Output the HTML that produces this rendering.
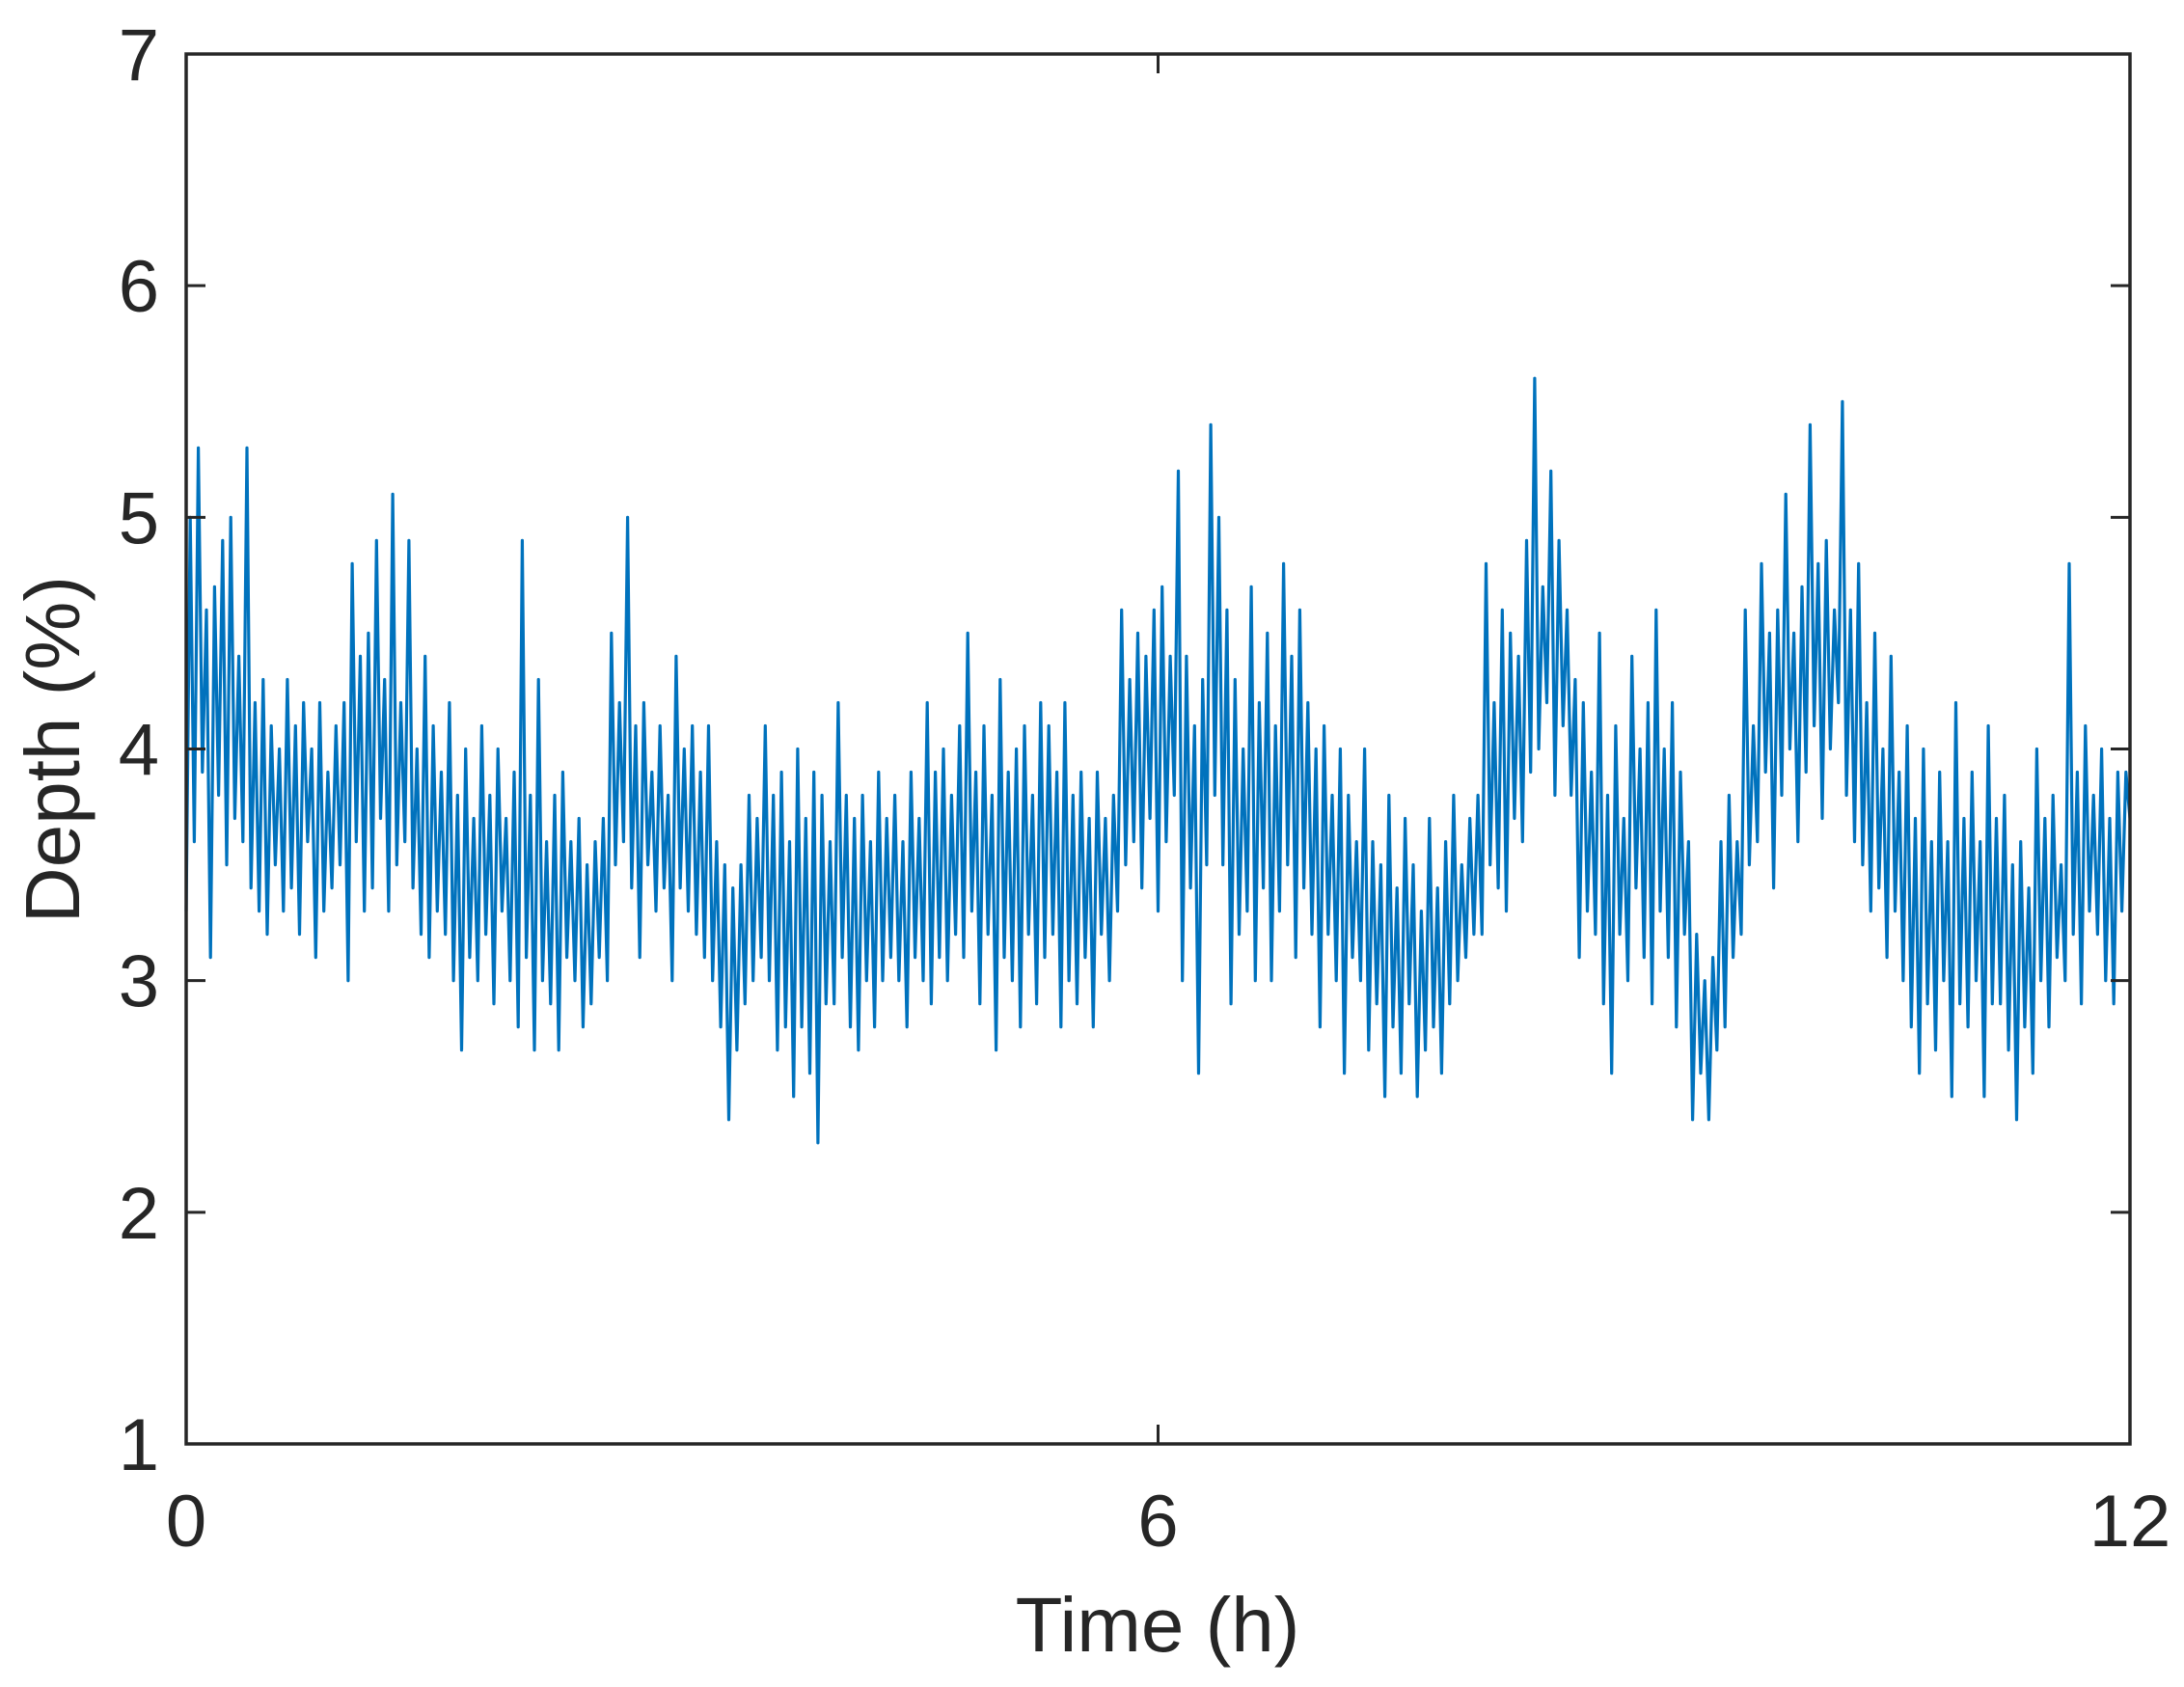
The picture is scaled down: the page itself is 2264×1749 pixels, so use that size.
<!DOCTYPE html>
<html><head><meta charset="utf-8"><style>
html,body{margin:0;padding:0;background:#fff;}
svg{display:block;font-family:"Liberation Sans",Arial,sans-serif;}
</style></head><body>
<svg id="chart" width="2264" height="1749" viewBox="0 0 2264 1749" xmlns="http://www.w3.org/2000/svg">
<rect width="2264" height="1749" fill="#fff"/>
<g id="plot"></g>
<g id="axes"></g>
<text x="1200" y="1712" font-size="80" text-anchor="middle" fill="#262626">Time (h)</text>
<text transform="translate(82,777) rotate(-90)" font-size="80" text-anchor="middle" fill="#262626">Depth (%)</text>
</svg>
<script>
const xTicks = [0, 6, 12];
const yTicks = [1, 2, 3, 4, 5, 6, 7];
const tStep = 0.025;
const depth = [
3.3,5.0,3.6,5.3,3.9,4.6,3.1,4.7,3.8,4.9,3.5,5.0,3.7,4.4,3.6,5.3,3.4,4.2,3.3,4.3,3.2,4.1,3.5,4.0,3.3,4.3,3.4,4.1,3.2,4.2,3.6,4.0,3.1,4.2,3.3,3.9,3.4,4.1,3.5,4.2,
3.0,4.8,3.6,4.4,3.3,4.5,3.4,4.9,3.7,4.3,3.3,5.1,3.5,4.2,3.6,4.9,3.4,4.0,3.2,4.4,3.1,4.1,3.3,3.9,3.2,4.2,3.0,3.8,2.7,4.0,3.1,3.7,3.0,4.1,3.2,3.8,2.9,4.0,3.3,3.7,
3.0,3.9,2.8,4.9,3.1,3.8,2.7,4.3,3.0,3.6,2.9,3.8,2.7,3.9,3.1,3.6,3.0,3.7,2.8,3.5,2.9,3.6,3.1,3.7,3.0,4.5,3.5,4.2,3.6,5.0,3.4,4.1,3.1,4.2,3.5,3.9,3.3,4.1,3.4,3.8,
3.0,4.4,3.4,4.0,3.3,4.1,3.2,3.9,3.1,4.1,3.0,3.6,2.8,3.5,2.4,3.4,2.7,3.5,2.9,3.8,3.0,3.7,3.1,4.1,3.0,3.8,2.7,3.9,2.8,3.6,2.5,4.0,2.8,3.7,2.6,3.9,2.3,3.8,2.9,3.6,
2.9,4.2,3.1,3.8,2.8,3.7,2.7,3.8,3.0,3.6,2.8,3.9,3.0,3.7,3.1,3.8,3.0,3.6,2.8,3.9,3.1,3.7,3.0,4.2,2.9,3.9,3.1,4.0,3.0,3.8,3.2,4.1,3.1,4.5,3.3,3.9,2.9,4.1,3.2,3.8,
2.7,4.3,3.1,3.9,3.0,4.0,2.8,4.1,3.2,3.8,2.9,4.2,3.1,4.1,3.2,3.9,2.8,4.2,3.0,3.8,2.9,3.9,3.1,3.7,2.8,3.9,3.2,3.7,3.0,3.8,3.3,4.6,3.5,4.3,3.6,4.5,3.4,4.4,3.7,4.6,
3.3,4.7,3.6,4.4,3.8,5.2,3.0,4.4,3.4,4.1,2.6,4.3,3.5,5.4,3.8,5.0,3.5,4.6,2.9,4.3,3.2,4.0,3.3,4.7,3.0,4.2,3.4,4.5,3.0,4.1,3.3,4.8,3.5,4.4,3.1,4.6,3.4,4.2,3.2,4.0,
2.8,4.1,3.2,3.8,3.0,4.0,2.6,3.8,3.1,3.6,3.0,4.0,2.7,3.6,2.9,3.5,2.5,3.8,2.8,3.4,2.6,3.7,2.9,3.5,2.5,3.3,2.7,3.7,2.8,3.4,2.6,3.6,2.9,3.8,3.0,3.5,3.1,3.7,3.2,3.8,
3.2,4.8,3.5,4.2,3.4,4.6,3.3,4.5,3.7,4.4,3.6,4.9,3.9,5.6,4.0,4.7,4.2,5.2,3.8,4.9,4.1,4.6,3.8,4.3,3.1,4.2,3.3,3.9,3.2,4.5,2.9,3.8,2.6,4.1,3.2,3.7,3.0,4.4,3.4,4.0,
3.1,4.2,2.9,4.6,3.3,4.0,3.1,4.2,2.8,3.9,3.2,3.6,2.4,3.2,2.6,3.0,2.4,3.1,2.7,3.6,2.8,3.8,3.1,3.6,3.2,4.6,3.5,4.1,3.6,4.8,3.9,4.5,3.4,4.6,3.8,5.1,4.0,4.5,3.6,4.7,
3.9,5.4,4.1,4.8,3.7,4.9,4.0,4.6,4.2,5.5,3.8,4.6,3.6,4.8,3.5,4.2,3.3,4.5,3.4,4.0,3.1,4.4,3.3,3.9,3.0,4.1,2.8,3.7,2.6,4.0,2.9,3.6,2.7,3.9,3.0,3.6,2.5,4.2,2.9,3.7,
2.8,3.9,3.0,3.6,2.5,4.1,2.9,3.7,2.9,3.8,2.7,3.5,2.4,3.6,2.8,3.4,2.6,4.0,3.0,3.7,2.8,3.8,3.1,3.5,3.0,4.8,3.2,3.9,2.9,4.1,3.3,3.8,3.2,4.0,3.0,3.7,2.9,3.9,3.3,3.9,
3.7];

const L=193,R=2208,T=56,B=1497;
const xMin=0,xMax=12,yMin=1,yMax=7;
function sx(v){return L+(v-xMin)/(xMax-xMin)*(R-L);}
function sy(v){return B-(v-yMin)/(yMax-yMin)*(B-T);}
const NS="http://www.w3.org/2000/svg";
const plot=document.getElementById('plot');
const axes=document.getElementById('axes');

let d='';
depth.forEach((v,i)=>{d+=(i?'L':'M')+sx(i*tStep).toFixed(1)+','+sy(v).toFixed(1);});
const line=document.createElementNS(NS,'path');
line.setAttribute('d',d);
line.setAttribute('fill','none');
line.setAttribute('stroke','#0072BD');
line.setAttribute('stroke-width','3.2');
line.setAttribute('stroke-linejoin','round');


plot.appendChild(line);

const box=document.createElementNS(NS,'rect');
box.setAttribute('x',L);box.setAttribute('y',T);
box.setAttribute('width',R-L);box.setAttribute('height',B-T);
box.setAttribute('fill','none');box.setAttribute('stroke','#262626');box.setAttribute('stroke-width','3.5');


axes.appendChild(box);

const tl=20;
xTicks.forEach(v=>{
  const x=sx(v);
  const t=document.createElementNS(NS,'path');
  t.setAttribute('d',`M${x},${B}V${B-tl}M${x},${T}V${T+tl}`);
  t.setAttribute('stroke','#262626');t.setAttribute('stroke-width','3');
  
  
  axes.appendChild(t);
  const lb=document.createElementNS(NS,'text');
  lb.setAttribute('x',x);lb.setAttribute('y',1603);
  lb.setAttribute('font-size','76');lb.setAttribute('text-anchor','middle');lb.setAttribute('fill','#262626');
  lb.textContent=v;
  
  
  axes.appendChild(lb);
});
yTicks.forEach(v=>{
  const y=sy(v);
  const t=document.createElementNS(NS,'path');
  t.setAttribute('d',`M${L},${y}H${L+tl}M${R},${y}H${R-tl}`);
  t.setAttribute('stroke','#262626');t.setAttribute('stroke-width','3');
  
  
  axes.appendChild(t);
  const lb=document.createElementNS(NS,'text');
  lb.setAttribute('x',165);lb.setAttribute('y',y+27);
  lb.setAttribute('font-size','76');lb.setAttribute('text-anchor','end');lb.setAttribute('fill','#262626');
  lb.textContent=v;
  
  
  axes.appendChild(lb);
});
</script>
</body></html>
